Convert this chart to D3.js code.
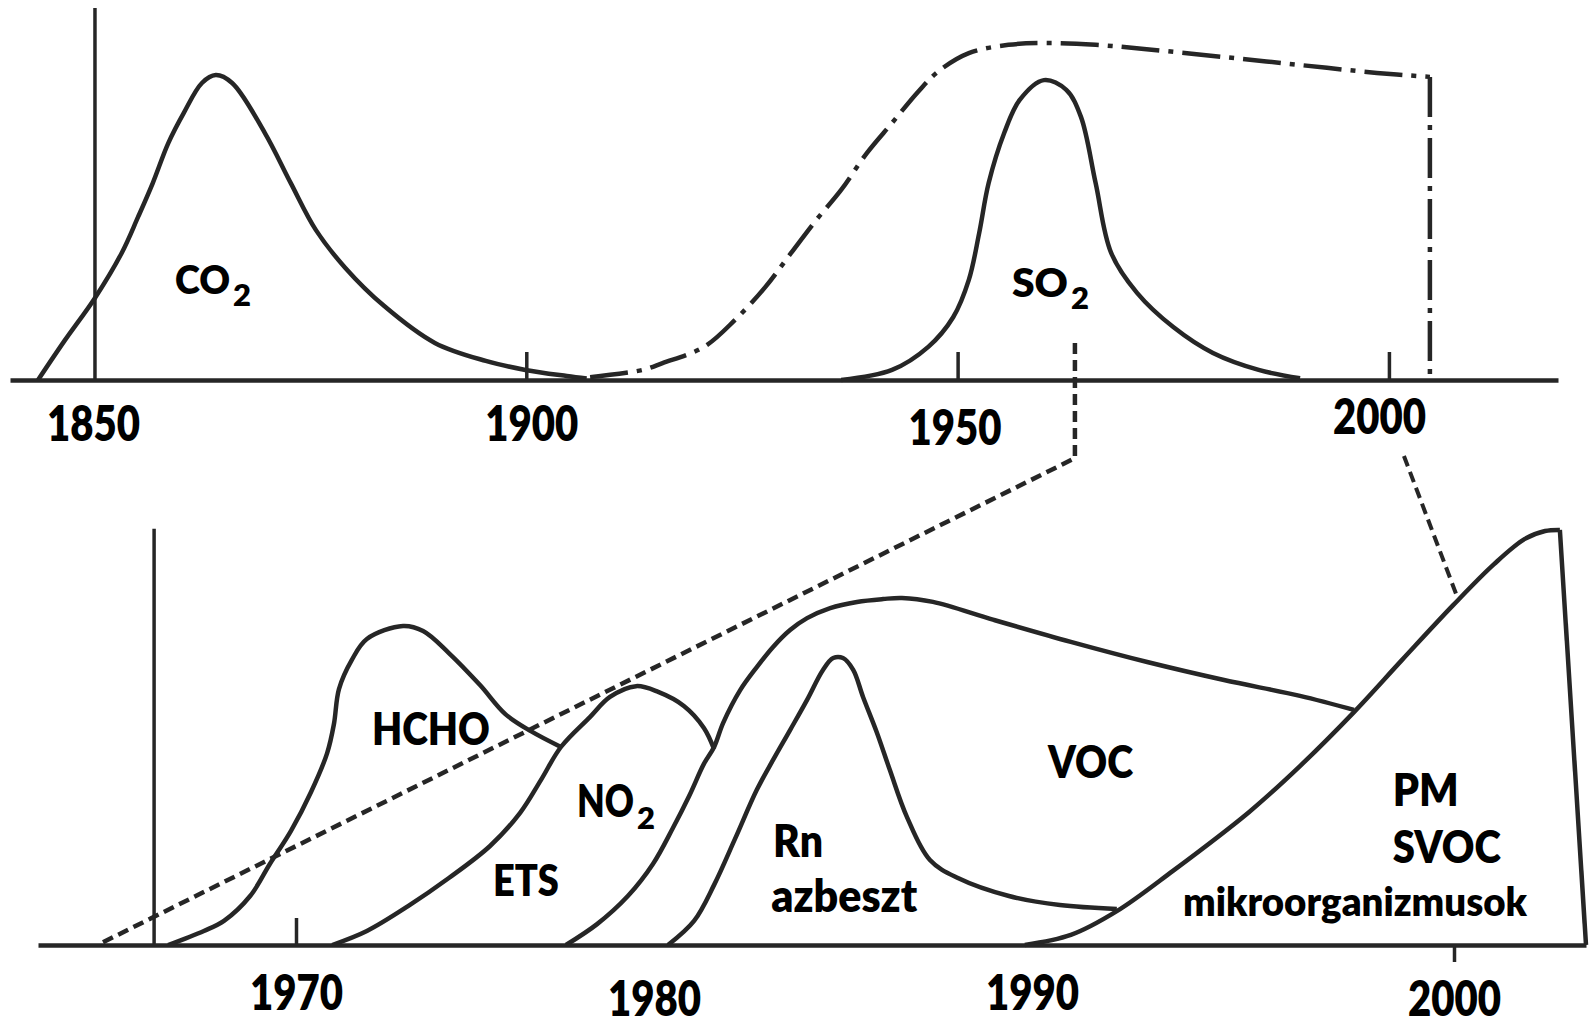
<!DOCTYPE html>
<html>
<head>
<meta charset="utf-8">
<title>Indoor air pollutants over time</title>
<script src="https://d3js.org/d3.v7.min.js"></script>
<style>
  body { margin: 0; background: #fff; }
  svg text { font-family: Lato, "Open Sans", sans-serif; font-weight: 800; fill: #000; }
</style>
</head>
<body>

<svg id="chart" width="1590" height="1020"></svg>

<script>
    // ---- top panel: 1850 - 2000 ----
    var topYears = [1850, 1900, 1950, 2000];
    var topSpan = [1840.15, 2019.6];

    var co2 = [[1843.4, 0], [1846.5, 11], [1850, 22.8], [1853.1, 35.3], [1855.0, 45.3], [1856.7, 54.7],
        [1858.5, 65.8], [1860.3, 74.2], [1862.4, 82.5], [1864.0, 84.7], [1865.9, 82.5], [1869.7, 68.6],
        [1872.7, 54.7], [1875.6, 41.7], [1879.0, 31.2], [1883.5, 20.6], [1889.4, 10.3], [1895.3, 5.3],
        [1899.9, 2.8], [1904.7, 1.1], [1907.0, 0.4]];

    var so2 = [[1936.5, 0], [1942.4, 2.8], [1946.6, 9.2], [1949.5, 17.5], [1951.3, 27.8], [1952.5, 40.8],
        [1953.6, 54.7], [1955.4, 68.6], [1957.2, 77.8], [1960.0, 83.3], [1962.6, 80.6], [1964.3, 73.1],
        [1966.0, 54.7], [1967.8, 35.3], [1970.8, 24.2], [1975.0, 14.7], [1979.6, 7.5], [1984.9, 2.8],
        [1989.7, 0.5]];

    // dash-dot envelope of all pollutants
    var overall = [[1907.4, 0.8], [1913.5, 2.8], [1915.8, 4.7], [1920.6, 9.2], [1924.2, 16.7], [1927.7, 25.8],
        [1930.7, 35.3], [1933.6, 44.4], [1936.5, 52.8], [1939.5, 63.1], [1942.4, 71.4], [1945.4, 80.0],
        [1947.7, 85.6], [1951.3, 90.8], [1955.9, 93.1], [1960.1, 93.6], [1966.0, 93.1], [1971.9, 91.9],
        [1980.9, 89.7], [1989.7, 87.5], [1998.6, 85.3], [2004.75, 84.2]];

    // ---- bottom panel: 1970 - 2000 ----
    var bottomYears = [1970, 1980, 1990, 2000];
    var bottomSpan = [1962.8, 2003.13];

    var hcho = [[1966.43, 0], [1967.43, 3.9], [1967.99, 6.7], [1968.72, 13.6], [1969.27, 22.5], [1969.86, 31.7],
        [1970.42, 42.5], [1970.87, 53.3], [1971.06, 61.4], [1971.20, 71.1], [1971.56, 79.2], [1971.98, 85.0],
        [1972.99, 88.6], [1973.55, 87.2], [1974.27, 81.1], [1975.14, 72.2], [1975.84, 64.2], [1976.56, 59.4],
        [1977.40, 55.0]];

    var ets = [[1971.01, 0], [1971.98, 3.9], [1973.13, 10.8], [1974.27, 18.6], [1975.42, 27.5], [1976.26, 36.7],
        [1976.84, 45.8], [1977.40, 55.0], [1978.21, 63.3], [1978.77, 68.9], [1979.50, 71.9], [1980.11, 70.3],
        [1980.79, 66.4], [1981.32, 60.3], [1981.59, 54.4]];

    // NO2 rising edge continuing into the VOC hump
    var no2voc = [[1977.54, 0], [1978.41, 5.8], [1979.27, 13.6], [1979.97, 22.5], [1980.50, 32.5], [1980.93, 41.4],
        [1981.32, 50.3], [1981.59, 55.0], [1981.83, 61.7], [1982.28, 70.8], [1982.72, 77.2], [1983.15, 82.8],
        [1983.60, 87.5], [1984.05, 90.8], [1984.66, 93.6], [1985.37, 95.3], [1986.06, 96.1], [1986.56, 96.4],
        [1987.38, 95.3], [1988.99, 90.3], [1990.92, 84.2], [1992.73, 78.6], [1994.55, 73.6], [1996.35, 69.2],
        [1997.63, 65.3]];

    var rn = [[1980.37, 0], [1981.06, 6.7], [1981.59, 16.7], [1982.14, 29.4], [1982.72, 43.1], [1983.15, 51.4],
        [1983.60, 59.7], [1984.05, 68.1], [1984.47, 76.4], [1984.74, 79.7], [1985.00, 79.7], [1985.27, 76.4],
        [1985.53, 68.9], [1985.90, 58.9], [1986.24, 48.6], [1986.69, 35.6], [1987.30, 23.6], [1988.04, 18.6],
        [1989.39, 13.6], [1990.66, 11.1], [1992.01, 10.0]];

    var pm = [[1989.81, 0], [1990.92, 2.8], [1992.01, 9.4], [1993.34, 20.6], [1995.14, 36.9], [1996.35, 49.7],
        [1997.63, 64.7], [1998.77, 79.2], [1999.98, 94.4], [2000.95, 105.8], [2001.68, 112.8], [2002.16, 115.0],
        [2002.51, 115.3]];
    var pmEnd = [2003.13, 0];

    // labels, anchored at [year, value] (text start, baseline)
    var topLabels = [
        {text: "CO", sub: "2", at: [1859.28, 23.9]},
        {text: "SO", sub: "2", at: [1956.3, 23.1]}
    ];
    var bottomLabels = [
        {text: "HCHO", at: [1972.12, 55.6]},
        {text: "NO", sub: "2", at: [1977.85, 35.6]},
        {text: "ETS", at: [1975.5, 13.6]},
        {text: "Rn", at: [1983.15, 24.4]},
        {text: "azbeszt", at: [1983.1, 9.2]},
        {text: "VOC", at: [1990.38, 46.4]},
        {text: "PM", at: [1998.55, 38.6]},
        {text: "SVOC", at: [1998.55, 22.8]},
        {text: "mikroorganizmusok", at: [1993.58, 8.1]}
    ];

    // zoom links between the panels
    var linkLeft = {from: [1963.6, 10.3], bend: [1963.6, -21.7], to: [1964.56, 0.5]};
    var linkRight = {from: [2001.74, -21.1], to: [2000.07, 96.9]};

    var svg = d3.select("#chart");
    var ink = "#262626";

    var xTop = d3.scaleLinear().domain(topSpan).range([10, 1558]);
    var yTop = d3.scaleLinear().domain([0, 100]).range([380, 20]);

    var xBot = d3.scaleLinear()
        .domain([bottomSpan[0]].concat(bottomYears, [bottomSpan[1]]))
        .range([38, 296, 654, 1032, 1454, 1586]);
    var yBot = d3.scaleLinear().domain([0, 100]).range([945, 585]);

    // label look: font size and measured width
    var labelStyle = {
        "CO": [40, 55], "SO": [39, 56], "HCHO": [45, 118], "NO": [46, 57], "ETS": [44, 66],
        "Rn": [45, 50], "azbeszt": [45, 146], "VOC": [45, 85], "PM": [45, 66], "SVOC": [45, 108],
        "mikroorganizmusok": [39, 344]
    };

    function curve(x, y) {
        return d3.line()
            .x(d => x(d[0]))
            .y(d => y(d[1]))
            .curve(d3.curveCatmullRom.alpha(0.5));
    }
    function straight(x, y) {
        return d3.line().x(d => x(d[0])).y(d => y(d[1]));
    }

    var lineTop = curve(xTop, yTop),
        lineBot = curve(xBot, yBot);

    function stroke(sel, w) {
        return sel.attr("fill", "none").attr("stroke", ink).attr("stroke-width", w)
            .attr("stroke-linejoin", "round");
    }

    // vertical guide lines
    stroke(svg.append("path"), 3.5)
        .attr("d", straight(xTop, yTop)([[1850, 0], [1850, 103.3]]));
    stroke(svg.append("path"), 3.5)
        .attr("d", straight(xBot, yBot)([[1966.04, 0], [1966.04, 115.6]]));

    // small ticks
    var tTop = svg.append("g")
        .attr("transform", `translate(0,${yTop(0)})`)
        .call(d3.axisTop(xTop).tickValues(topYears.slice(1)).tickSize(28).tickFormat(""));
    var tBotUp = svg.append("g")
        .attr("transform", `translate(0,${yBot(0)})`)
        .call(d3.axisTop(xBot).tickValues([1970]).tickSize(27).tickFormat(""));
    var tBotDown = svg.append("g")
        .attr("transform", `translate(0,${yBot(0)})`)
        .call(d3.axisBottom(xBot).tickValues([2000]).tickSize(17).tickFormat(""));
    [tTop, tBotUp, tBotDown].forEach(function (g) {
        g.select(".domain").remove();
        g.selectAll(".tick line").attr("stroke", ink).attr("stroke-width", 3.5);
    });

    // curves
    stroke(svg.append("path"), 4.5).attr("d", lineTop(co2));
    stroke(svg.append("path"), 4.5).attr("d", lineTop(so2));
    stroke(svg.append("path"), 4.5)
        .attr("stroke-dasharray", "38,9,5,9")
        .attr("d", lineTop(overall));
    stroke(svg.append("path"), 4.5)
        .attr("stroke-dasharray", "40,8,5,8")
        .attr("d", straight(xTop, yTop)([overall[overall.length - 1], [overall[overall.length - 1][0], 0]]));

    stroke(svg.append("path"), 4.5).attr("d", lineBot(hcho));
    stroke(svg.append("path"), 4.5).attr("d", lineBot(ets));
    stroke(svg.append("path"), 4.5).attr("d", lineBot(no2voc));
    stroke(svg.append("path"), 4.5).attr("d", lineBot(rn));
    stroke(svg.append("path"), 4.5).attr("d", lineBot(pm));
    stroke(svg.append("path"), 4.5)
        .attr("d", straight(xBot, yBot)([pm[pm.length - 1], pmEnd]));

    // dotted zoom links
    var linkPts = [
        [xTop(linkLeft.from[0]), yTop(linkLeft.from[1])],
        [xTop(linkLeft.bend[0]), yTop(linkLeft.bend[1])],
        [xBot(linkLeft.to[0]), yBot(linkLeft.to[1])]
    ];
    stroke(svg.append("path"), 4.5)
        .attr("stroke-dasharray", "11,6")
        .attr("stroke-linejoin", "miter")
        .attr("d", d3.line()(linkPts));
    stroke(svg.append("path"), 4)
        .attr("stroke-dasharray", "11,6")
        .attr("d", d3.line()([
            [xTop(linkRight.from[0]), yTop(linkRight.from[1])],
            [xBot(linkRight.to[0]), yBot(linkRight.to[1])]
        ]));

    // axes with year labels
    var topNudge = {1850: [-2, 0], 1900: [5, 0], 1950: [-3, 4], 2000: [-10, -7]};
    var axTop = svg.append("g")
        .attr("transform", `translate(0,${yTop(0)})`)
        .call(d3.axisBottom(xTop).tickValues(topYears).tickSize(0).tickSizeOuter(0).tickFormat(d3.format("d")));
    var axBot = svg.append("g")
        .attr("transform", `translate(0,${yBot(0)})`)
        .call(d3.axisBottom(xBot).tickValues(bottomYears).tickSize(0).tickSizeOuter(0).tickFormat(d3.format("d")));

    [axTop, axBot].forEach(function (g) {
        g.select(".domain").attr("stroke", ink).attr("stroke-width", 4.5);
        g.selectAll(".tick text")
            .attr("font-family", null)
            .attr("font-size", 50)
            .attr("fill", "#000")
            .attr("dy", null)
            .attr("textLength", 93)
            .attr("lengthAdjust", "spacingAndGlyphs");
    });
    axTop.selectAll(".tick text")
        .attr("x", d => topNudge[d][0])
        .attr("y", d => 61 + topNudge[d][1]);
    axBot.selectAll(".tick text")
        .attr("y", (d, i) => 65 + (i % 2 ? 6 : 0));

    // pollutant labels
    function addLabels(list, x, y) {
        list.forEach(function (l) {
            var st = labelStyle[l.text];
            var px = x(l.at[0]), py = y(l.at[1]);
            svg.append("text")
                .attr("x", px)
                .attr("y", py)
                .attr("font-size", st[0])
                .attr("textLength", st[1])
                .attr("lengthAdjust", "spacingAndGlyphs")
                .text(l.text);
            if (l.sub) {
                svg.append("text")
                    .attr("x", px + st[1] + 3)
                    .attr("y", py + 12)
                    .attr("font-size", 31)
                    .text(l.sub);
            }
        });
    }
    addLabels(topLabels, xTop, yTop);
    addLabels(bottomLabels, xBot, yBot);
</script>
</body>
</html>
